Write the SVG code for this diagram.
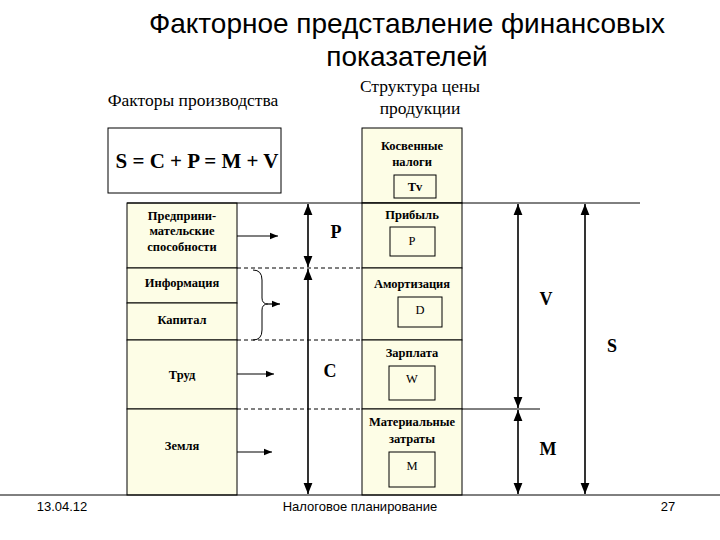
<svg xmlns="http://www.w3.org/2000/svg" width="720" height="540" viewBox="0 0 720 540">
<defs>
<marker id="a" viewBox="0 0 10 10" refX="10" refY="5" markerWidth="7" markerHeight="7" orient="auto-start-reverse"><path d="M0,1 L10,5 L0,9 z" fill="#000"/></marker>
<style>
.s{font-family:"Liberation Serif",serif;font-weight:bold;font-size:12.5px;text-anchor:middle}
.n{font-family:"Liberation Serif",serif;font-size:12.5px;text-anchor:middle}
.h{font-family:"Liberation Serif",serif;font-size:17.5px;text-anchor:middle}
.big{font-family:"Liberation Serif",serif;font-weight:bold;font-size:18px;text-anchor:middle}
.c{fill:#fdfde6;stroke:#000;stroke-width:1}
.b{fill:none;stroke:#000;stroke-width:1}
.d{stroke:#000;stroke-width:1;stroke-dasharray:4,3}
.ar{stroke:#000;stroke-width:1.2;marker-end:url(#a)}
.dbl{stroke:#000;stroke-width:1.6;marker-start:url(#a);marker-end:url(#a)}
.sans{font-family:"Liberation Sans",sans-serif;text-anchor:middle}
</style>
</defs>
<rect width="720" height="540" fill="#fff"/>
<g id="title">
<text class="sans" x="407" y="33" style="font-size:28px">Факторное представление финансовых</text>
<text class="sans" x="407" y="66" style="font-size:28px">показателей</text>
</g>
<text class="h" x="193" y="106">Факторы производства</text>
<text class="h" x="420" y="92">Структура цены</text>
<text class="h" x="420" y="114">продукции</text>
<g id="formula"><rect class="b" x="108" y="128" width="173" height="65"/><text class="big" x="197" y="168" style="font-size:21px">S = C + P = M + V</text></g>
<g id="left">
<g id="f1"><rect class="c" x="127" y="203" width="110" height="65"/><text class="s" x="182" y="220">Предприни-</text><text class="s" x="182" y="235">мательские</text><text class="s" x="182" y="251">способности</text></g>
<g id="f2"><rect class="c" x="127" y="268" width="110" height="35"/><text class="s" x="182" y="287">Информация</text></g>
<g id="f3"><rect class="c" x="127" y="303" width="110" height="37"/><text class="s" x="182" y="324">Капитал</text></g>
<g id="f4"><rect class="c" x="127" y="340" width="110" height="69"/><text class="s" x="182" y="379">Труд</text></g>
<g id="f5"><rect class="c" x="127" y="409" width="110" height="86"/><text class="s" x="182" y="450">Земля</text></g>
</g>
<g id="right">
<g id="r0"><rect class="c" x="362" y="128" width="100" height="75"/><text class="s" x="412" y="150">Косвенные</text><text class="s" x="412" y="166">налоги</text><rect class="b" x="394" y="175" width="42" height="23"/><text class="s" x="415" y="191">Tv</text></g>
<g id="r1"><rect class="c" x="362" y="203" width="100" height="65"/><text class="s" x="412" y="219">Прибыль</text><rect class="b" x="390" y="227" width="45" height="29"/><text class="n" x="412" y="245">P</text></g>
<g id="r2"><rect class="c" x="362" y="268" width="100" height="72"/><text class="s" x="412" y="288">Амортизация</text><rect class="b" x="398" y="297" width="44" height="30"/><text class="n" x="420" y="314">D</text></g>
<g id="r3"><rect class="c" x="362" y="340" width="100" height="69"/><text class="s" x="412" y="357">Зарплата</text><rect class="b" x="389" y="366" width="46" height="34"/><text class="n" x="412" y="383">W</text></g>
<g id="r4"><rect class="c" x="362" y="409" width="100" height="86"/><text class="s" x="412" y="426">Материальные</text><text class="s" x="412" y="443">затраты</text><rect class="b" x="389" y="452" width="46" height="35"/><text class="n" x="412" y="470">M</text></g>
</g>
<g id="connectors">
<line x1="127" y1="203" x2="640" y2="203" stroke="#000"/>
<line class="d" x1="237" y1="268" x2="362" y2="268"/>
<line class="d" x1="237" y1="340" x2="362" y2="340"/>
<line class="d" x1="237" y1="409" x2="362" y2="409"/>
<line x1="462" y1="409" x2="540" y2="409" stroke="#000"/>
<line x1="0" y1="495" x2="720" y2="495" stroke="#000"/>
<line class="ar" x1="237" y1="236" x2="278" y2="236"/>
<path d="M253,270 Q262,270 262,280 L262,298 Q262,304 268,304 Q262,304 262,310 L262,330 Q262,340 253,340" fill="none" stroke="#000"/>
<line class="ar" x1="268" y1="304" x2="280" y2="304"/>
<line class="ar" x1="237" y1="374" x2="274" y2="374" stroke-width="2.2"/>
<line class="ar" x1="237" y1="452" x2="272" y2="452"/>
<line class="dbl" x1="308" y1="204" x2="308" y2="267" stroke-width="1.2"/>
<line class="dbl" x1="308" y1="269" x2="308" y2="494" stroke-width="1.2"/>
<line class="dbl" x1="518" y1="204" x2="518" y2="408"/>
<line class="dbl" x1="518" y1="410" x2="518" y2="494"/>
<line class="dbl" x1="585" y1="204" x2="585" y2="494"/>
</g>
<g id="labels">
<text class="big" x="336" y="238">P</text>
<text class="big" x="330" y="377">C</text>
<text class="big" x="546" y="305">V</text>
<text class="big" x="612" y="352">S</text>
<text class="big" x="548" y="455">M</text>
</g>
<g id="footer">
<text class="sans" x="62" y="511" style="font-size:13px">13.04.12</text>
<text class="sans" x="360" y="511" style="font-size:13px">Налоговое планирование</text>
<text class="sans" x="668" y="511" style="font-size:13px">27</text>
</g>
</svg>
